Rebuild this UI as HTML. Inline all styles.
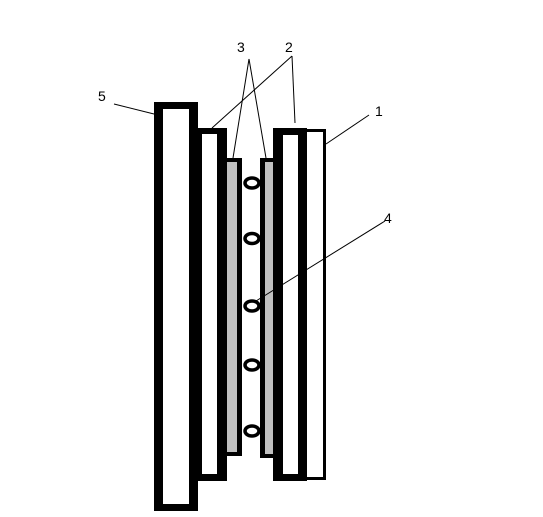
<!DOCTYPE html>
<html><head><meta charset="utf-8"><style>
html,body{margin:0;padding:0;background:#fff;}
svg{display:block;}
text{font-family:"Liberation Sans",sans-serif;font-size:14px;}
</style></head><body>
<svg width="543" height="517" viewBox="0 0 543 517">
<!-- plate 5 -->
<g>
<rect x="154" y="102" width="44" height="409" fill="#000"/>
<rect x="163" y="109" width="26" height="395" fill="#fff"/>
</g>
<!-- plate 2 left -->
<g>
<rect x="197" y="128" width="30" height="353" fill="#000"/>
<rect x="202" y="134" width="15" height="340" fill="#fff"/>
</g>
<!-- layer 3 left -->
<g>
<rect x="226" y="158" width="16" height="298" fill="#000"/>
<rect x="227" y="162" width="10" height="290" fill="#c0c0c0"/>
</g>
<!-- layer 3 right -->
<g>
<rect x="260" y="158" width="14" height="300" fill="#000"/>
<rect x="265" y="162" width="8" height="292" fill="#c0c0c0"/>
</g>
<!-- plate 2 right -->
<g>
<rect x="273" y="128" width="34" height="353" fill="#000"/>
<rect x="283" y="135" width="15" height="339" fill="#fff"/>
</g>
<!-- plate 1 -->
<g>
<rect x="306" y="129" width="20" height="351" fill="#000"/>
<rect x="307" y="132" width="16" height="345" fill="#fff"/>
</g>
<!-- balls 4 -->
<g fill="#fff" stroke="#000" stroke-width="3.5">
<ellipse cx="252" cy="183" rx="7" ry="5"/>
<ellipse cx="252" cy="238.5" rx="7" ry="5"/>
<ellipse cx="252" cy="306" rx="7" ry="5"/>
<ellipse cx="252" cy="365" rx="7" ry="5"/>
<ellipse cx="252" cy="431" rx="7" ry="5"/>
</g>
<!-- leader lines -->
<g stroke="#000" stroke-width="1" fill="none">
<line x1="114" y1="104" x2="154" y2="114"/>
<line x1="249" y1="59" x2="233" y2="158"/>
<line x1="249" y1="59" x2="266" y2="158"/>
<line x1="292" y1="56" x2="212" y2="128"/>
<line x1="292" y1="56" x2="295" y2="123"/>
<line x1="369" y1="115" x2="326" y2="144"/>
<line x1="385" y1="221" x2="256" y2="301"/>
</g>
<text x="98" y="101">5</text>
<text x="237" y="52">3</text>
<text x="285" y="52">2</text>
<text x="375" y="116">1</text>
<text x="384" y="223">4</text>
</svg>
</body></html>
